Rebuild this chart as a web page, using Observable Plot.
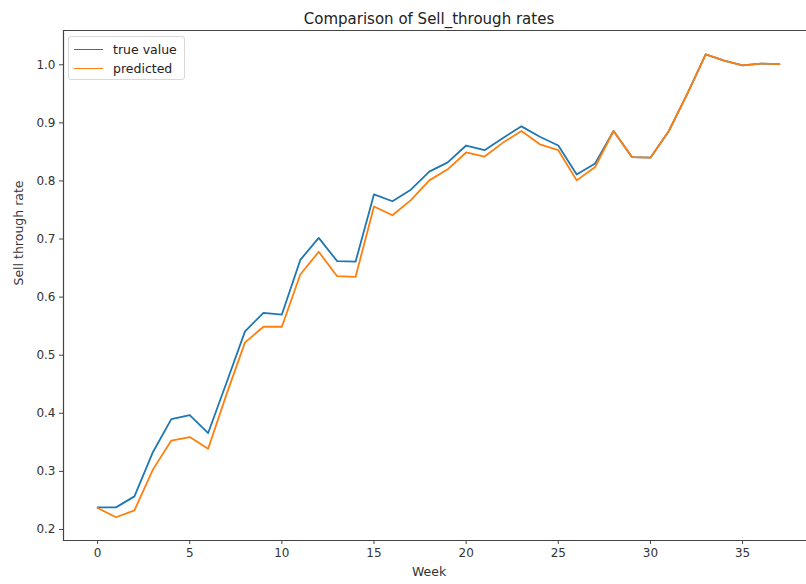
<!DOCTYPE html>
<html>
<head>
<meta charset="utf-8">
<script src="https://cdn.jsdelivr.net/npm/d3@7"></script>
<script src="https://cdn.jsdelivr.net/npm/@observablehq/plot@0.6"></script>
<style>
  body { margin: 0; background: #fff; font-family: "DejaVu Sans", sans-serif; }
  #wrap { position: relative; width: 806px; height: 584px; }
  #legend { position: absolute; left: 68px; top: 36px; width: 117px; height: 44px;
    border: 1px solid #d8d8d8; border-radius: 3px; background: rgba(255,255,255,0.8);
    font-size: 12.5px; color: #222; box-sizing: border-box; }
  .item { position: absolute; left: 5px; height: 16px; display: flex; align-items: center; }
  .swatch { width: 29px; height: 0; border-top: 1.8px solid; margin-right: 10px; }
</style>
</head>
<body>
<div id="wrap">
  <div id="chart"></div>
  <div id="legend"></div>
</div>
<script>
const weeks = d3.range(0, 38);
const trueValue = [0.238,0.238,0.257,0.333,0.390,0.397,0.366,0.453,0.541,0.573,0.570,0.664,0.702,0.662,0.661,0.777,0.765,0.785,0.816,0.832,0.861,0.853,0.874,0.894,0.876,0.861,0.811,0.830,0.886,0.841,0.840,0.886,0.950,1.018,1.007,0.999,1.002,1.001];
const predicted = [0.237,0.221,0.233,0.303,0.353,0.359,0.339,0.433,0.522,0.549,0.549,0.639,0.678,0.636,0.635,0.756,0.741,0.767,0.801,0.820,0.849,0.842,0.866,0.886,0.863,0.853,0.801,0.824,0.886,0.841,0.840,0.886,0.950,1.018,1.007,0.999,1.002,1.001];
const seriesNames = ["true value", "predicted"];
const seriesColors = ["#1f77b4", "#ff7f0e"];
const xTicks = [0, 5, 10, 15, 20, 25, 30, 35];
const yTicks = [0.2, 0.3, 0.4, 0.5, 0.6, 0.7, 0.8, 0.9, 1.0];
const titleText = "Comparison of Sell_through rates";

const xDomain = [-1.85, 38.47];
const yDomain = [0.181, 1.059];

const rows = [];
weeks.forEach((w, i) => {
  rows.push({week: w, value: trueValue[i], series: seriesNames[0]});
  rows.push({week: w, value: predicted[i], series: seriesNames[1]});
});

const axisColor = "#444";
const chart = Plot.plot({
  width: 806,
  height: 584,
  marginLeft: 63,
  marginRight: 0,
  marginTop: 30,
  marginBottom: 44,
  style: {fontFamily: "DejaVu Sans, sans-serif", fontSize: "12px", color: "#333", background: "#fff"},
  x: {domain: xDomain},
  y: {domain: yDomain},
  color: {domain: seriesNames, range: seriesColors},
  marks: [
    Plot.axisX({ticks: xTicks, tickSize: 4, tickPadding: 4, stroke: axisColor, fontSize: 12, label: null}),
    Plot.axisY({ticks: yTicks, tickSize: 4, tickPadding: 4, stroke: axisColor, fontSize: 12, tickFormat: d3.format(".1f"), label: null}),
    Plot.ruleY([yDomain[0]], {stroke: axisColor, strokeWidth: 1.2}),
    Plot.ruleY([yDomain[1]], {stroke: axisColor, strokeWidth: 1.2}),
    Plot.ruleX([xDomain[0]], {stroke: axisColor, strokeWidth: 1.2}),
    Plot.line(rows, {x: "week", y: "value", z: "series", stroke: "series", strokeWidth: 1.8}),
    Plot.text([titleText], {frameAnchor: "top", dy: -17, dx: -6, text: d => d, fontSize: 15, fill: "#222"}),
    Plot.text(["Week"], {frameAnchor: "bottom", dy: 35, dx: -6, text: d => d, fontSize: 12.5, fill: "#333"}),
    Plot.text(["Sell through rate"], {frameAnchor: "left", dx: -45, text: d => d, rotate: -90, fontSize: 12.5, fill: "#333"})
  ]
});
document.getElementById("chart").appendChild(chart);

const legend = document.getElementById("legend");
seriesNames.forEach((name, i) => {
  const item = document.createElement("div");
  item.className = "item";
  item.style.top = (4 + i * 19) + "px";
  const sw = document.createElement("span");
  sw.className = "swatch";
  sw.style.borderColor = seriesColors[i];
  const label = document.createElement("span");
  label.textContent = name;
  item.appendChild(sw);
  item.appendChild(label);
  legend.appendChild(item);
});
</script>
</body>
</html>
